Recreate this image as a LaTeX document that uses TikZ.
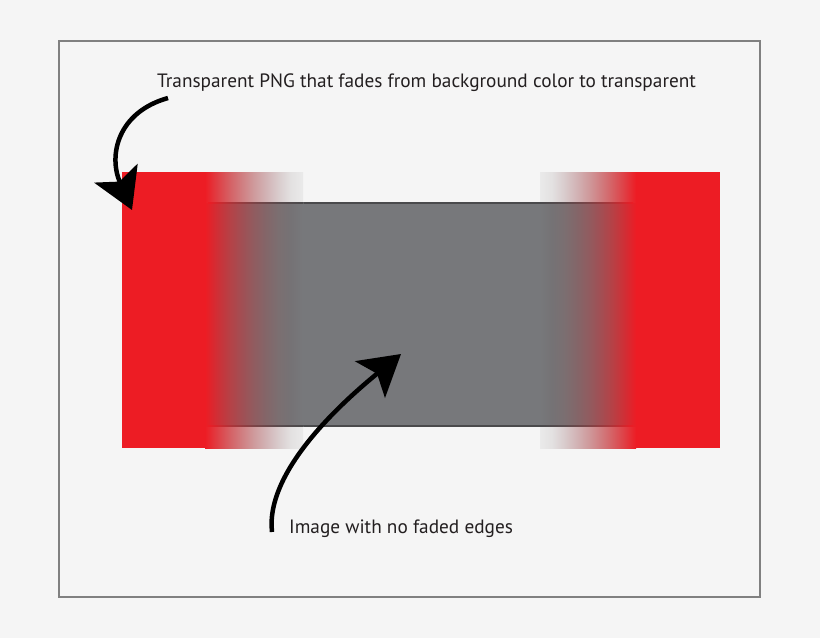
\documentclass[tikz,border=0pt]{standalone}
\usepackage{fontspec}
\setmainfont{PT Sans}
\usetikzlibrary{arrows.meta}
\definecolor{bg}{HTML}{F5F5F5}
\definecolor{framec}{HTML}{808080}
\definecolor{redc}{HTML}{ED1C24}
\definecolor{grayc}{HTML}{77787B}
\definecolor{edgec}{HTML}{4A4A4C}
\definecolor{inkc}{HTML}{231F20}
% fade over the background
\definecolor{ba}{RGB}{223,63,69}
\definecolor{bb}{RGB}{213,96,100}
\definecolor{bc}{RGB}{208,126,129}
\definecolor{bd}{RGB}{207,155,157}
\definecolor{be}{RGB}{210,180,182}
\definecolor{bf}{RGB}{217,204,205}
\definecolor{bgg}{RGB}{227,225,225}
\definecolor{bh}{RGB}{234,234,234}
% fade over the gray image
\definecolor{ga}{RGB}{207,47,54}
\definecolor{gb}{RGB}{182,65,70}
\definecolor{gc}{RGB}{161,79,84}
\definecolor{gd}{RGB}{144,92,96}
\definecolor{ge}{RGB}{131,102,105}
\definecolor{gf}{RGB}{123,111,113}
\definecolor{gg}{RGB}{117,114,117}
% fade over the edge line
\definecolor{eb}{RGB}{171,53,58}
\definecolor{ed}{RGB}{121,69,72}
\definecolor{ef}{RGB}{89,76,78}
\pgfdeclarehorizontalshading{fadebg}{100bp}{color(0bp)=(redc); color(25bp)=(redc); color(31.25bp)=(ba); color(37.5bp)=(bb); color(43.75bp)=(bc); color(50bp)=(bd); color(56.25bp)=(be); color(62.5bp)=(bf); color(68.75bp)=(bgg); color(75bp)=(bh); color(100bp)=(bh)}
\pgfdeclarehorizontalshading{fadegray}{100bp}{color(0bp)=(redc); color(25bp)=(redc); color(31.25bp)=(ga); color(37.5bp)=(gb); color(43.75bp)=(gc); color(50bp)=(gd); color(56.25bp)=(ge); color(62.5bp)=(gf); color(68.75bp)=(gg); color(75bp)=(grayc); color(100bp)=(grayc)}
\pgfdeclarehorizontalshading{fadeedge}{100bp}{color(0bp)=(redc); color(25bp)=(redc); color(37.5bp)=(eb); color(50bp)=(ed); color(62.5bp)=(ef); color(75bp)=(edgec); color(100bp)=(edgec)}
\tikzset{
  label text/.style={font=\fontsize{19.3}{23}\selectfont, text=inkc, inner sep=0pt},
  bigarrow/.style={draw=black, line width=4.5pt, -{Stealth[length=40pt,width=47pt,inset=9pt]}},
  fadeL/.style={shading=#1},
  fadeR/.style={shading=#1, shading angle=180},
}
\begin{document}
\begin{tikzpicture}[x=1pt,y=-1pt]
\useasboundingbox (0,0) rectangle (820,638);
\fill[bg] (0,0) rectangle (820,638);
\draw[framec, line width=1.6pt] (59,41) rectangle (760,597);
% red panel (solid parts)
\fill[redc] (122,172) rectangle (205.5,448);
\fill[redc] (635.5,172) rectangle (720,448);
% gray image with no faded edges
\fill[grayc] (303,203) rectangle (540,426);
\draw[edgec, line width=1.1pt] (302.5,203) -- (540.5,203);
\draw[edgec, line width=1.1pt] (302.5,426) -- (540.5,426);
% transparent PNG fades, left
\shade[fadeL=fadebg] (205,172) rectangle (303,203);
\shade[fadeL=fadebg] (205,426) rectangle (303,448);
\shade[fadeL=fadegray] (205,203) rectangle (303,426);
\shade[fadeL=fadeedge] (208,202.45) rectangle (303,203.55);
\shade[fadeL=fadeedge] (208,425.45) rectangle (303,426.55);
% transparent PNG fades, right
\shade[fadeR=fadebg] (540,172) rectangle (636,203);
\shade[fadeR=fadebg] (540,426) rectangle (636,448);
\shade[fadeR=fadegray] (540,203) rectangle (636,426);
\shade[fadeR=fadeedge] (540,202.45) rectangle (633,203.55);
\shade[fadeR=fadeedge] (540,425.45) rectangle (633,426.55);
% labels
\node[label text, anchor=base west] (t1) at (157,87) {Transparent PNG that fades from background color to transparent};
\node[label text, anchor=base west] (t2) at (289,533) {Image with no faded edges};
\coordinate (a1s) at (168,98);
\coordinate (a1e) at (132,210);
\coordinate (a2s) at (272,532);
\coordinate (a2e) at (401,354);
\draw[bigarrow] (a1s) .. controls (118,112) and (108,155) .. (a1e);
\draw[bigarrow] (a2s) .. controls (265,470) and (345,400) .. (a2e);
\end{tikzpicture}
\end{document}
